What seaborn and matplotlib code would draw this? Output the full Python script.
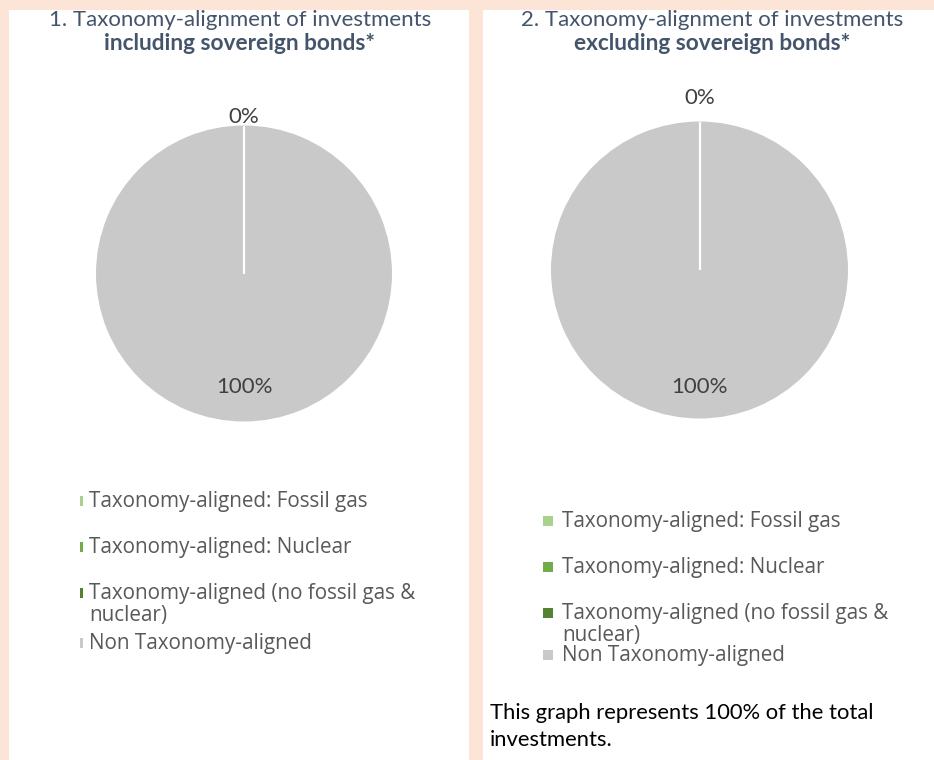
import matplotlib
matplotlib.use("Agg")
import matplotlib.pyplot as plt
from matplotlib.patches import Rectangle
import seaborn as sns
import numpy as np

# ---- data -------------------------------------------------------------
categories = [
    "Taxonomy-aligned: Fossil gas",
    "Taxonomy-aligned: Nuclear",
    "Taxonomy-aligned (no fossil gas & nuclear)",
    "Non Taxonomy-aligned",
]
legend_lines = [
    ["Taxonomy-aligned: Fossil gas"],
    ["Taxonomy-aligned: Nuclear"],
    ["Taxonomy-aligned (no fossil gas &", "nuclear)"],
    ["Non Taxonomy-aligned"],
]
incl_sovereign = [0, 0, 0, 100]
excl_sovereign = [0, 0, 0, 100]
title_lines = [
    ("1. Taxonomy-alignment of investments", "including sovereign bonds*"),
    ("2. Taxonomy-alignment of investments", "excluding sovereign bonds*"),
]
note_lines = ["This graph represents 100% of the total", "investments."]

# ---- style ------------------------------------------------------------
sns.set_theme(style="white")
plt.rcParams["font.family"] = ["Lato", "DejaVu Sans"]
palette = sns.color_palette(["#A9D18E", "#70AD47", "#548235", "#C9C9C9"])

W, H = 934, 760
fig = plt.figure(figsize=(W / 100, H / 100), dpi=100)
fig.patch.set_facecolor("#FCE4D6")


def fx(x):
    return x / W


def fy(y):
    return 1 - y / H


# panel layout in pixels
panels = [
    dict(x0=9, x1=469, cx=244, cy=273.5, r=148, tcx=240, zero_r=1.06, in_r=0.77,
         leg_mx=80, leg_mw=3, leg_tx=89, leg_y0=501, leg_dy=[0, 46, 92, 142]),
    dict(x0=483, x1=W, cx=699.5, cy=270, r=148.5, tcx=712, zero_r=1.155, in_r=0.79,
         leg_mx=543, leg_mw=10, leg_tx=562, leg_y0=521, leg_dy=[0, 46, 92, 134]),
]
datasets = [incl_sovereign, excl_sovereign]

for p, values, (t1, t2) in zip(panels, datasets, title_lines):
    # white panel behind everything
    fig.patches.append(Rectangle((fx(p["x0"]), 0), fx(p["x1"]) - fx(p["x0"]), fy(10),
                                 transform=fig.transFigure, facecolor="white",
                                 edgecolor="none", zorder=-5))
    # titles
    fig.text(fx(p["tcx"]), fy(20), t1, ha="center", va="center",
             fontsize=16, color="#44546A")
    fig.text(fx(p["tcx"]), fy(44), t2, ha="center", va="center",
             fontsize=16.3, color="#44546A", fontweight="bold")

    # pie
    r = p["r"]
    ax = fig.add_axes([fx(p["cx"] - r), fy(p["cy"] + r), 2 * r / W, 2 * r / H])
    ax.set_zorder(1)
    ax.patch.set_visible(False)
    wedges, _ = ax.pie(values, colors=palette, startangle=90, counterclock=False,
                       radius=1, wedgeprops=dict(edgecolor="none", linewidth=0))
    ax.set_xlim(-1, 1)
    ax.set_ylim(-1, 1)
    ax.axis("off")

    # slice separators and percentage labels
    total = float(sum(values))
    start = 90.0
    shown_zero = False
    boundaries = set()
    for v in values:
        span = 360.0 * v / total
        boundaries.add(round(start % 360, 6))
        mid = np.deg2rad(start - span / 2)
        start -= span
        boundaries.add(round(start % 360, 6))
        if v == 0:
            if shown_zero:
                continue
            shown_zero = True
            dist = p["zero_r"]
        else:
            dist = p["in_r"]
        ax.text(dist * np.cos(mid), dist * np.sin(mid), f"{v:.0f}%",
                ha="center", va="center", fontsize=16, color="#404040", clip_on=False)
    for b in boundaries:
        a = np.deg2rad(b)
        ax.plot([0, np.cos(a)], [0, np.sin(a)], color="white", lw=1.6,
                solid_capstyle="butt", zorder=5)

    # legend
    for k, (lines, col) in enumerate(zip(legend_lines, palette)):
        y = p["leg_y0"] + p["leg_dy"][k]
        fig.patches.append(Rectangle((fx(p["leg_mx"]), fy(y + 5)), p["leg_mw"] / W, 10 / H,
                                     transform=fig.transFigure, facecolor=col,
                                     edgecolor="none", zorder=2))
        for j, line in enumerate(lines):
            fig.text(fx(p["leg_tx"]), fy(y + 22 * j), line, ha="left", va="center",
                     fontsize=14.9, color="#595959", family=["Open Sans", "DejaVu Sans"])

# note under the second chart
for j, line in enumerate(note_lines):
    fig.text(fx(490), fy(713 + 27 * j), line, ha="left", va="center",
             fontsize=15.8, color="black")

fig.savefig("out.png", dpi=100, facecolor=fig.get_facecolor())
